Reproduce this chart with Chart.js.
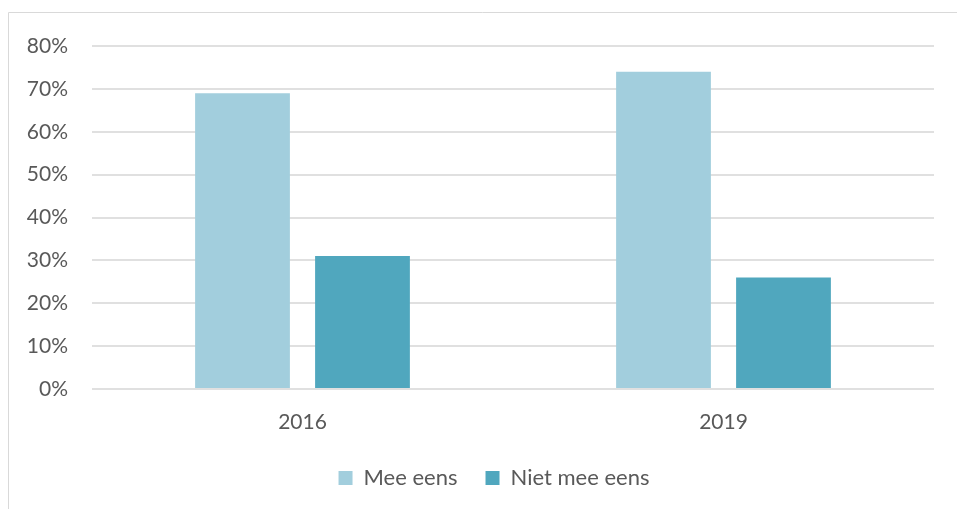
<!DOCTYPE html>
<html>
<head>
<meta charset="utf-8">
<script src="https://cdn.jsdelivr.net/npm/chart.js@4"></script>
<style>
  html, body { margin: 0; padding: 0; background: #ffffff; }
  #wrap { position: relative; width: 957px; height: 509px; }
</style>
</head>
<body>
<div id="wrap"><canvas id="c" width="957" height="509"></canvas></div>
<script>
const categories = ["2016", "2019"];
const seriesNames = ["Mee eens", "Niet mee eens"];
const meeEens = [69, 74];
const nietMeeEens = [31, 26];
const yTicks = [0, 10, 20, 30, 40, 50, 60, 70, 80];

const FONT = 'Lato, "Open Sans", sans-serif';

const frame = {
  id: 'frame',
  afterLayout(chart) {
    const lg = chart.legend;
    if (lg) { lg.left += 27; lg.right += 27; }
  },
  beforeDraw(chart) {
    const ctx = chart.ctx;
    ctx.save();
    ctx.strokeStyle = '#d9d9d9';
    ctx.lineWidth = 1;
    ctx.beginPath();
    ctx.moveTo(8.5, 509);
    ctx.lineTo(8.5, 12.5);
    ctx.lineTo(957, 12.5);
    ctx.stroke();
    ctx.restore();
  }
};

new Chart(document.getElementById('c'), {
  type: 'bar',
  data: {
    labels: categories,
    datasets: [
      { label: seriesNames[0], data: meeEens, backgroundColor: '#A2CEDD' },
      { label: seriesNames[1], data: nietMeeEens, backgroundColor: '#50A7BE' }
    ]
  },
  options: {
    responsive: false,
    animation: false,
    devicePixelRatio: 1,
    categoryPercentage: 0.57,
    barPercentage: 0.79,
    layout: { padding: { left: 0, right: 23, top: 46, bottom: 10 } },
    font: { family: FONT },
    plugins: {
      legend: {
        position: 'bottom',
        labels: {
          boxWidth: 14, boxHeight: 14, padding: 28,
          color: '#595959',
          font: { family: FONT, size: 22 }
        }
      },
      tooltip: { enabled: false }
    },
    scales: {
      x: {
        grid: { display: false, drawTicks: false },
        border: { display: false },
        ticks: { color: '#595959', padding: 21, font: { family: FONT, size: 21 } },
        afterFit(s) { s.height = 50; }
      },
      y: {
        min: 0, max: 80,
        afterBuildTicks(s) { s.ticks = yTicks.map(v => ({ value: v })); },
        grid: { color: '#e0e0e0', lineWidth: 2, drawTicks: false },
        border: { display: false },
        ticks: {
          color: '#595959', padding: 24,
          font: { family: FONT, size: 21 },
          callback: v => v + '%'
        },
        afterFit(s) { s.width = 92; }
      }
    }
  },
  plugins: [frame]
});
</script>
</body>
</html>
